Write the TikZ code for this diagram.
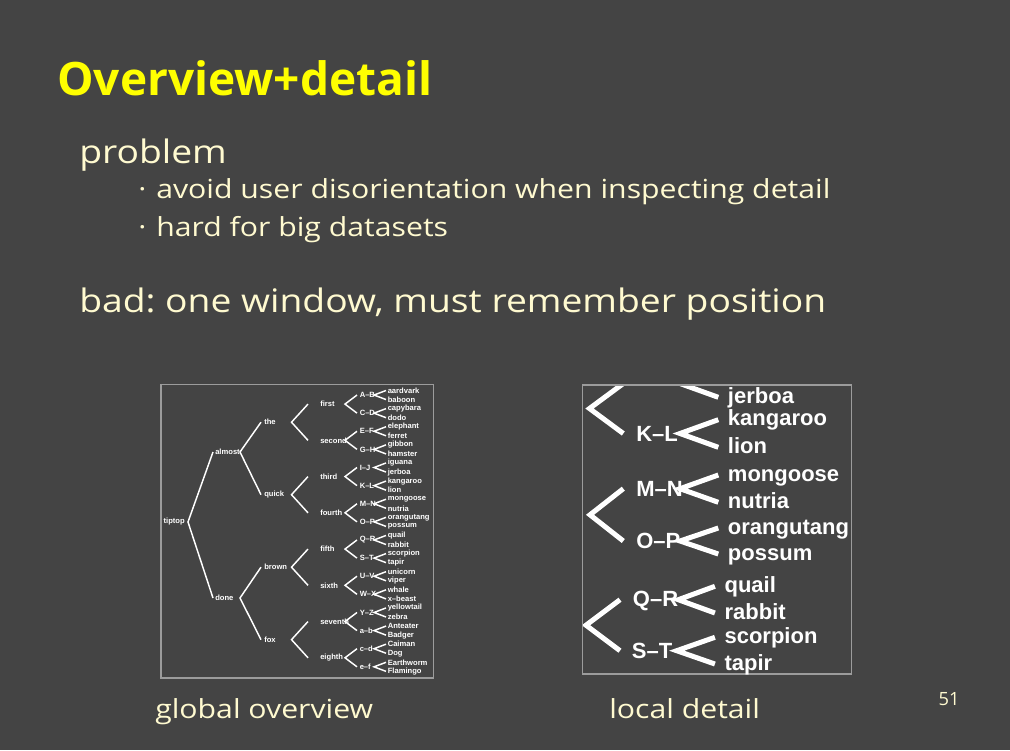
\documentclass[tikz,border=0pt]{standalone}
\usepackage{fontspec}
\setmainfont{Open Sans}[FakeStretch=1.15]
\newfontfamily\titlefont{Open Sans}
\newfontfamily\treefont{Liberation Sans}
\usetikzlibrary{calc}
\frenchspacing

\definecolor{slidebg}{HTML}{444444}
\definecolor{slidetext}{HTML}{FFFAD0}
\definecolor{slidetitle}{HTML}{FFFF00}
\definecolor{framegray}{HTML}{9C9C9C}

\tikzset{
    every node/.style={inner sep=0pt},
    titletext/.style={anchor=base west, text=slidetitle,
        font=\titlefont\fontsize{34.5}{40}\selectfont\bfseries},
    headtext/.style={anchor=base west, text=slidetext,
        font=\fontsize{24.3}{30}\selectfont},
    itemtext/.style={anchor=base west, text=slidetext,
        font=\fontsize{19.7}{24}\selectfont},
    pagenum/.style={anchor=base west, text=slidetext,
        font=\titlefont\fontsize{13.7}{16}\selectfont},
    overviewedge/.style={draw=white, line width=1.1pt},
    overviewlabel/.style={text=white,
        font=\treefont\bfseries\fontsize{5.7}{6}\selectfont},
    detailedge/.style={draw=white, line width=3.75pt},
    detaillabel/.style={anchor=base west, text=white,
        font=\treefont\bfseries\fontsize{16.5}{19}\selectfont},
    viewframe/.style={draw=framegray, line width=0.8pt},
}

\begin{document}
\begin{tikzpicture}[x=0.75pt, y=-0.75pt]
    \fill[slidebg] (0, 0) rectangle (1010, 750);
    \useasboundingbox (0, 0) rectangle (1010, 750);

    \node[titletext] (title) at (57, 95.7) {Overview+detail};
    \node[headtext] (problem) at (79, 163) {problem};
    \node[itemtext] (dot1) at (138, 198.3) {·};
    \node[itemtext] (item1) at (156, 198.3)
        {avoid user disorientation when inspecting detail};
    \node[itemtext] (dot2) at (138, 236.7) {·};
    \node[itemtext] (item2) at (156, 236.7) {hard for big datasets};
    \node[headtext] (bad) at (79, 312.7)
        {bad: one window, must remember position};

    % global overview
    \draw[viewframe] (161, 384.3) rectangle (433.3, 678);
    \foreach \animal [count=\i from 0] in {aardvark, baboon, capybara, dodo,
        elephant, ferret, gibbon, hamster, iguana, jerboa, kangaroo, lion,
        mongoose, nutria, orangutang, possum, quail, rabbit, scorpion, tapir,
        unicorn, viper, whale, x–beast, yellowtail, zebra, Anteater, Badger,
        Caiman, Dog, Earthworm, Flamingo} {
        \coordinate (leaftip-\i) at (386, {390.5 + 9.06*\i});
        \node[overviewlabel, anchor=west] (leaf-\i) at (387.5,
            {390.5 + 9.06*\i}) {\animal};
    }
    \foreach \pair [count=\j from 0] in {A–B, C–D, E–F, G–H, I–J, K–L, M–N,
        O–P, Q–R, S–T, U–V, W–X, Y–Z, a–b, c–d, e–f} {
        \pgfmathsetmacro\py{390.5 + 9.06*(2*\j + 0.5)}
        \pgfmathtruncatemacro\ua{2*\j}
        \pgfmathtruncatemacro\ub{2*\j + 1}
        \coordinate (pairtip-\j) at (357, \py);
        \coordinate (pairfork-\j) at (374, \py);
        \draw[overviewedge] (leaftip-\ua) -- (pairfork-\j) -- (leaftip-\ub);
        \node[overviewlabel, anchor=west] (pair-\j) at (359.5, \py) {\pair};
    }
    \foreach \word [count=\k from 0] in {first, second, third, fourth, fifth,
        sixth, seventh, eighth} {
        \pgfmathsetmacro\qy{390.5 + 9.06*(4*\k + 1.5)}
        \pgfmathtruncatemacro\ua{2*\k}
        \pgfmathtruncatemacro\ub{2*\k + 1}
        \coordinate (quadtip-\k) at (308, \qy);
        \coordinate (quadfork-\k) at (345, \qy);
        \draw[overviewedge] (pairtip-\ua) -- (quadfork-\k) -- (pairtip-\ub);
        \node[overviewlabel, anchor=west] (quad-\k) at (320, \qy) {\word};
    }
    \foreach \word [count=\m from 0] in {the, quick, brown, fox} {
        \pgfmathsetmacro\oy{390.5 + 9.06*(8*\m + 3.5)}
        \pgfmathtruncatemacro\ua{2*\m}
        \pgfmathtruncatemacro\ub{2*\m + 1}
        \coordinate (octtip-\m) at (261, \oy);
        \coordinate (octfork-\m) at (291.5, \oy);
        \draw[overviewedge] (quadtip-\ua) -- (octfork-\m) -- (quadtip-\ub);
        \node[overviewlabel, anchor=west] (oct-\m) at (264, \oy) {\word};
    }
    \foreach \word/\hy [count=\h from 0] in {almost/452, done/598} {
        \pgfmathtruncatemacro\ua{2*\h}
        \pgfmathtruncatemacro\ub{2*\h + 1}
        \coordinate (halftip-\h) at (213, \hy);
        \coordinate (halffork-\h) at (240, \hy);
        \draw[overviewedge] (octtip-\ua) -- (halffork-\h) -- (octtip-\ub);
        \node[overviewlabel, anchor=west] (half-\h) at (215, \hy) {\word};
    }
    \coordinate (rootfork) at (188, 522);
    \draw[overviewedge] (halftip-0) -- (rootfork) -- (halftip-1);
    \node[overviewlabel, anchor=east] (root) at (185, 522) {tiptop};

    % local detail
    \foreach \animal/\ax/\ay in {jerboa/727.7/403.3, kangaroo/727.7/425.7,
        lion/727.7/453.3, mongoose/727.7/481, nutria/727.7/508.3,
        orangutang/727.7/534, possum/727.7/560, quail/724.3/592.3,
        rabbit/724.3/619, scorpion/724.3/643.3, tapir/724.3/670} {
        \coordinate (zoomtip-\animal) at (\ax - 9.4, \ay - 6);
    }
    \coordinate (forkIJ) at (680, 383.5);
    \coordinate (forkKL) at (680, 433.5);
    \coordinate (forkMN) at (680, 488.7);
    \coordinate (forkOP) at (680, 541);
    \coordinate (forkQR) at (678.3, 599.7);
    \coordinate (forkST) at (676.7, 650.7);
    \coordinate (tipIJ) at (623.3, 383.5);
    \coordinate (tipKL) at (623.3, 433.5);
    \coordinate (tipMN) at (623.3, 488.7);
    \coordinate (tipOP) at (623.3, 541);
    \coordinate (tipQR) at (620, 599.7);
    \coordinate (tipST) at (620, 650.7);
    \coordinate (forkthird) at (589.5, 408.5);
    \coordinate (forkfourth) at (590, 514.8);
    \coordinate (forkfifth) at (586, 625.2);
    \begin{scope}
        \clip (582.5, 385) rectangle (851.5, 674);
        \draw[detailedge] (tipIJ) -- (forkthird) -- (tipKL);
        \draw[detailedge] (tipMN) -- (forkfourth) -- (tipOP);
        \draw[detailedge] (tipQR) -- (forkfifth) -- (tipST);
        \draw[detailedge] (forkIJ) -- (zoomtip-jerboa);
        \draw[detailedge] (zoomtip-kangaroo) -- (forkKL) -- (zoomtip-lion);
        \draw[detailedge] (zoomtip-mongoose) -- (forkMN) -- (zoomtip-nutria);
        \draw[detailedge] (zoomtip-orangutang) -- (forkOP)
            -- (zoomtip-possum);
        \draw[detailedge] (zoomtip-quail) -- (forkQR) -- (zoomtip-rabbit);
        \draw[detailedge] (zoomtip-scorpion) -- (forkST) -- (zoomtip-tapir);
    \end{scope}
    \draw[viewframe] (582.5, 385) rectangle (851.5, 674);
    \foreach \animal/\ax/\ay in {jerboa/727.7/403.3, kangaroo/727.7/425.7,
        lion/727.7/453.3, mongoose/727.7/481, nutria/727.7/508.3,
        orangutang/727.7/534, possum/727.7/560, quail/724.3/592.3,
        rabbit/724.3/619, scorpion/724.3/643.3, tapir/724.3/670} {
        \node[detaillabel] (zoom-\animal) at (\ax, \ay) {\animal};
    }
    \node[detaillabel] (zoomKL) at (636, 441.7) {K–L};
    \node[detaillabel] (zoomMN) at (636, 496.7) {M–N};
    \node[detaillabel] (zoomOP) at (636, 548.3) {O–P};
    \node[detaillabel] (zoomQR) at (632.7, 606.7) {Q–R};
    \node[detaillabel] (zoomST) at (631.7, 658.3) {S–T};

    \node[itemtext] (globalcap) at (155, 718.3) {global overview};
    \node[itemtext] (localcap) at (609, 718.3) {local detail};
    \node[pagenum] (page) at (938.3, 705) {51};
\end{tikzpicture}
\end{document}
